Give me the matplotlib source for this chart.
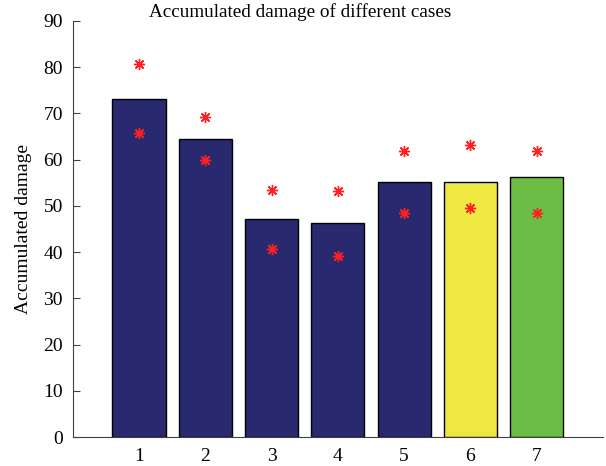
"""
accumulated damage of different cases
"""

import matplotlib

matplotlib.use("Agg")
import matplotlib.pyplot as plt

# bar heights and the two red star markers per case
cases = [1, 2, 3, 4, 5, 6, 7]
damage = [73.2, 64.5, 47.2, 46.2, 55.1, 55.1, 56.3]
upper_mark = [80.6, 69.3, 53.5, 53.2, 61.8, 63.1, 61.8]
lower_mark = [65.7, 60.0, 40.7, 39.2, 48.4, 49.6, 48.4]
bar_colors = ["#29296f", "#29296f", "#29296f", "#29296f", "#29296f", "#efe842", "#6bbd45"]

plt.rcParams["font.family"] = ["Liberation Serif", "DejaVu Serif"]

fig = plt.figure(figsize=(6.06, 4.66), dpi=100)
ax = fig.add_axes([0.120, 0.062, 0.875, 0.893])

ax.bar(cases, damage, width=0.8, color=bar_colors, edgecolor="black", linewidth=1.0, zorder=2)
ax.plot(cases, upper_mark, linestyle="none", marker=(8, 2, 0), markersize=8,
        color="#ff2020", markeredgewidth=1.0, zorder=3)
ax.plot(cases, lower_mark, linestyle="none", marker=(8, 2, 0), markersize=8,
        color="#ff2020", markeredgewidth=1.0, zorder=3)

ax.set_xlim(0, 8)
ax.set_ylim(0, 90)
ax.set_yticks(range(0, 91, 10))
ax.set_xticks(cases)

# only left and bottom axis lines
ax.spines["top"].set_visible(False)
ax.spines["right"].set_visible(False)
ax.spines["left"].set_color("#404040")
ax.spines["bottom"].set_color("#404040")
ax.tick_params(axis="y", direction="in", length=5, color="#404040", labelsize=14, pad=7)
ax.tick_params(axis="x", length=0, labelsize=14, pad=8)

ax.set_ylabel("Accumulated damage", fontsize=14, labelpad=8)
fig.text(0.495, 0.975, "Accumulated damage of different cases", ha="center", va="center", fontsize=13.8)

fig.savefig("out.png", dpi=100)
